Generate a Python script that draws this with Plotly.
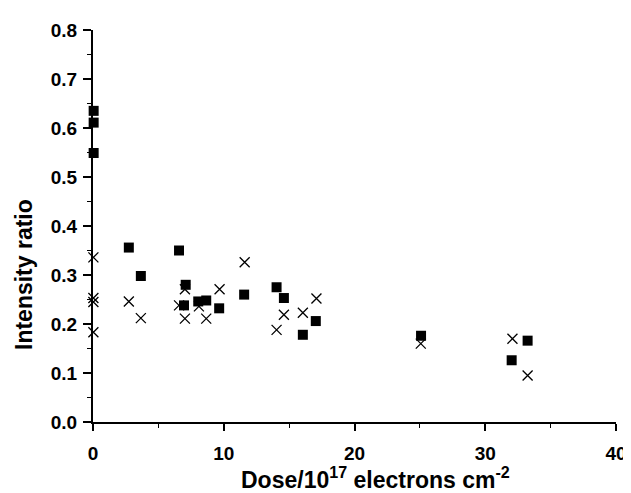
import plotly.graph_objects as go

# Filled squares series
sq_x = [0.05, 0.05, 0.05, 2.74, 3.66, 6.58, 7.09, 6.96, 8.05, 8.66, 9.65, 11.56, 14.04, 14.6, 16.05, 17.04, 25.09, 32.02, 33.24]
sq_y = [0.635, 0.611, 0.549, 0.356, 0.298, 0.350, 0.280, 0.238, 0.246, 0.248, 0.232, 0.260, 0.275, 0.253, 0.178, 0.206, 0.176, 0.126, 0.166]

# Cross series
cr_x = [0.03, 0.03, 0.03, 0.03, 2.74, 3.66, 6.58, 7.03, 7.03, 8.1, 8.66, 9.68, 11.6, 14.04, 14.6, 16.05, 17.09, 25.07, 32.08, 33.24]
cr_y = [0.336, 0.253, 0.245, 0.183, 0.246, 0.212, 0.238, 0.271, 0.211, 0.236, 0.211, 0.271, 0.326, 0.188, 0.219, 0.223, 0.252, 0.160, 0.170, 0.095]

x_ticks = [0, 10, 20, 30, 40]
y_ticks = [0.0, 0.1, 0.2, 0.3, 0.4, 0.5, 0.6, 0.7, 0.8]

FONT = "Arial, Liberation Sans, sans-serif"

fig = go.Figure()
fig.add_trace(go.Scatter(x=cr_x, y=cr_y, mode="markers",
                         marker=dict(symbol="x-thin", size=10, line=dict(color="black", width=1.3)),
                         showlegend=False, cliponaxis=False))
fig.add_trace(go.Scatter(x=sq_x, y=sq_y, mode="markers",
                         marker=dict(symbol="square", size=10, color="black"),
                         showlegend=False, cliponaxis=False))

fig.update_layout(
    width=631, height=493,
    margin=dict(l=85, r=21, t=12, b=79),
    paper_bgcolor="white", plot_bgcolor="white",
    font=dict(family=FONT, color="black"),
    xaxis=dict(range=[0, 40], tickvals=x_ticks, ticktext=[f"<b>{v}</b>" for v in x_ticks],
               showgrid=False, zeroline=False, showline=True, linecolor="black", linewidth=2,
               ticks="outside", ticklen=7, tickwidth=1.5, tickcolor="black",
               minor=dict(dtick=5, ticks="outside", ticklen=4, tickcolor="black", tickwidth=1.2),
               tickfont=dict(size=19, family=FONT), ticklabelstandoff=6),
    yaxis=dict(range=[0, 0.8], tickvals=y_ticks, ticktext=[f"<b>{v:.1f}</b>" for v in y_ticks],
               showgrid=False, zeroline=False, showline=True, linecolor="black", linewidth=2,
               ticks="outside", ticklen=8, tickwidth=1.5, tickcolor="black",
               minor=dict(dtick=0.05, ticks="outside", ticklen=4, tickcolor="black", tickwidth=1.2),
               tickfont=dict(size=19, family=FONT), ticklabelstandoff=2),
    annotations=[
        dict(text="<b>Intensity ratio</b>", textangle=-90, xref="paper", yref="y", x=0, y=0.3,
             xanchor="center", yanchor="middle", xshift=-69, showarrow=False,
             font=dict(size=23, family=FONT)),
        dict(text="<b>Dose/10<sup>17</sup> electrons cm<sup>-2</sup></b>", xref="x", yref="paper",
             x=21.6, y=0, xanchor="center", yanchor="middle", yshift=-56, showarrow=False,
             font=dict(size=23, family=FONT)),
    ],
)

fig.write_html("out.html")
